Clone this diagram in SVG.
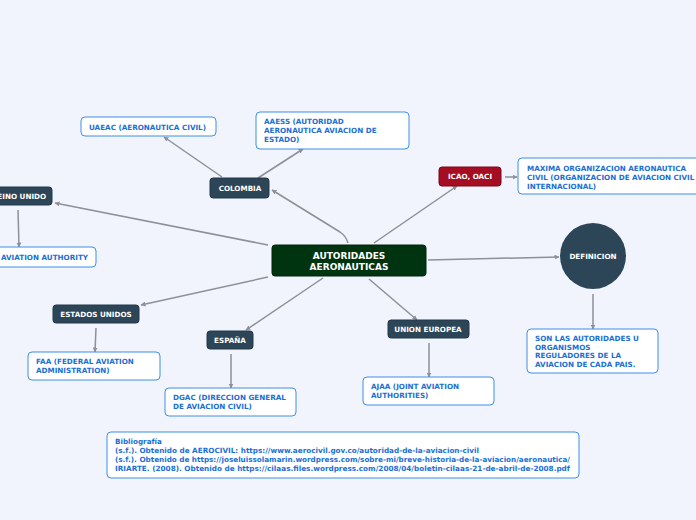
<svg xmlns="http://www.w3.org/2000/svg" width="696" height="520" viewBox="0 0 696 520">
<defs>
<marker id="ah" viewBox="0 0 10 10" refX="9" refY="5" markerWidth="5" markerHeight="5" orient="auto" markerUnits="userSpaceOnUse">
<path d="M0,0 L10,5 L0,10 z" fill="#8c9099"/>
</marker>
<style>
text{font-family:"DejaVu Sans","Verdana",sans-serif;font-weight:bold}
.dk{fill:#2d4657;stroke:#22384a;stroke-width:1}
.dt{fill:#ffffff;font-size:7.2px;text-anchor:middle}
.lb{fill:#ffffff;stroke:#3d8fe8;stroke-width:1}
.lt{fill:#1a6fd6;font-size:7.2px}
.cn{fill:none;stroke:#8c9099;stroke-width:1.5;marker-end:url(#ah)}
</style>
</defs>
<rect width="696" height="520" fill="#f1f4fd"/>
<g id="connectors">
<path class="cn" d="M348,243 Q346,236 340,232 L272,190"/>
<path class="cn" d="M222,177 L164,137"/>
<path class="cn" d="M258,178 L303,149"/>
<path class="cn" d="M268,245 L55,203"/>
<path class="cn" d="M18,210 L19,247"/>
<path class="cn" d="M374,243 L457,186"/>
<path class="cn" d="M505,177 L517,177"/>
<path class="cn" d="M428,260 L559,257"/>
<path class="cn" d="M593,294 L593,329"/>
<path class="cn" d="M268,277 L141,305"/>
<path class="cn" d="M96,328 L95,352"/>
<path class="cn" d="M323,278 L246,330"/>
<path class="cn" d="M231,354 L231,388"/>
<path class="cn" d="M369,279 L417,320"/>
<path class="cn" d="M429,343 L429,377"/>
</g>
<g id="central">
<rect x="272" y="245" width="154" height="31" rx="3" fill="#00330f" stroke="#00260b"/>
<text x="349" y="259" fill="#fff" font-size="9" text-anchor="middle">AUTORIDADES</text>
<text x="349" y="270" fill="#fff" font-size="9" text-anchor="middle">AERONAUTICAS</text>
</g>
<g id="colombia">
<rect class="dk" x="210" y="178" width="59" height="20" rx="3"/>
<text class="dt" x="240" y="191">COLOMBIA</text>
</g>
<g id="uaeac">
<rect class="lb" x="81" y="117" width="135" height="19" rx="4"/>
<text class="lt" x="89" y="130">UAEAC (AERONAUTICA CIVIL)</text>
</g>
<g id="aaess">
<rect class="lb" x="256" y="112" width="153" height="37" rx="4"/>
<text class="lt" x="264" y="124">AAESS (AUTORIDAD</text>
<text class="lt" x="264" y="133">AERONAUTICA AVIACION DE</text>
<text class="lt" x="264" y="142">ESTADO)</text>
</g>
<g id="reino-unido">
<rect class="dk" x="-14" y="187" width="66" height="18" rx="3"/>
<text class="dt" x="19" y="199">REINO UNIDO</text>
</g>
<g id="caa">
<rect class="lb" x="-40" y="247" width="136" height="20" rx="4"/>
<text class="lt" x="88" y="260" text-anchor="end">CIVIL AVIATION AUTHORITY</text>
</g>
<g id="icao">
<rect x="439" y="167" width="62" height="19" rx="3" fill="#a50d22" stroke="#7a0918"/>
<text class="dt" x="470" y="179">ICAO, OACI</text>
</g>
<g id="maxima">
<rect class="lb" x="518" y="158" width="190" height="36" rx="4"/>
<text class="lt" x="527" y="171">MAXIMA ORGANIZACION AERONAUTICA</text>
<text class="lt" x="527" y="180">CIVIL (ORGANIZACION DE AVIACION CIVIL</text>
<text class="lt" x="527" y="189">INTERNACIONAL)</text>
</g>
<g id="definicion">
<circle cx="593" cy="256" r="33" fill="#2d4657"/>
<text class="dt" x="593" y="259">DEFINICION</text>
</g>
<g id="son-las">
<rect class="lb" x="527" y="329" width="131" height="44" rx="4"/>
<text class="lt" x="535" y="341">SON LAS AUTORIDADES U</text>
<text class="lt" x="535" y="350">ORGANISMOS</text>
<text class="lt" x="535" y="358">REGULADORES DE LA</text>
<text class="lt" x="535" y="367">AVIACION DE CADA PAIS.</text>
</g>
<g id="estados-unidos">
<rect class="dk" x="53" y="305" width="86" height="18" rx="3"/>
<text class="dt" x="96" y="317">ESTADOS UNIDOS</text>
</g>
<g id="faa">
<rect class="lb" x="28" y="352" width="132" height="28" rx="4"/>
<text class="lt" x="36" y="364">FAA (FEDERAL AVIATION</text>
<text class="lt" x="36" y="373">ADMINISTRATION)</text>
</g>
<g id="espana">
<rect class="dk" x="207" y="331" width="46" height="18" rx="3"/>
<text class="dt" x="230" y="343">ESPAÑA</text>
</g>
<g id="dgac">
<rect class="lb" x="165" y="388" width="131" height="28" rx="4"/>
<text class="lt" x="173" y="400">DGAC (DIRECCION GENERAL</text>
<text class="lt" x="173" y="409">DE AVIACION CIVIL)</text>
</g>
<g id="union-europea">
<rect class="dk" x="388" y="320" width="81" height="18" rx="3"/>
<text class="dt" x="428" y="332">UNION EUROPEA</text>
</g>
<g id="ajaa">
<rect class="lb" x="363" y="377" width="131" height="28" rx="4"/>
<text class="lt" x="371" y="389">AJAA (JOINT AVIATION</text>
<text class="lt" x="371" y="398">AUTHORITIES)</text>
</g>
<g id="bibliografia">
<rect class="lb" x="107" y="432" width="472" height="46" rx="4"/>
<text class="lt" x="115" y="444" font-size="6.5">Bibliografía</text>
<text class="lt" x="115" y="453" font-size="6.5" textLength="364" lengthAdjust="spacingAndGlyphs">(s.f.). Obtenido de AEROCIVIL: https://www.aerocivil.gov.co/autoridad-de-la-aviacion-civil</text>
<text class="lt" x="115" y="462" font-size="6.5" textLength="455" lengthAdjust="spacingAndGlyphs">(s.f.). Obtenido de https://joseluissolamarin.wordpress.com/sobre-mi/breve-historia-de-la-aviacion/aeronautica/</text>
<text class="lt" x="115" y="471" font-size="6.5" textLength="455" lengthAdjust="spacingAndGlyphs">IRIARTE. (2008). Obtenido de https://cilaas.files.wordpress.com/2008/04/boletin-cilaas-21-de-abril-de-2008.pdf</text>
</g>
</svg>
